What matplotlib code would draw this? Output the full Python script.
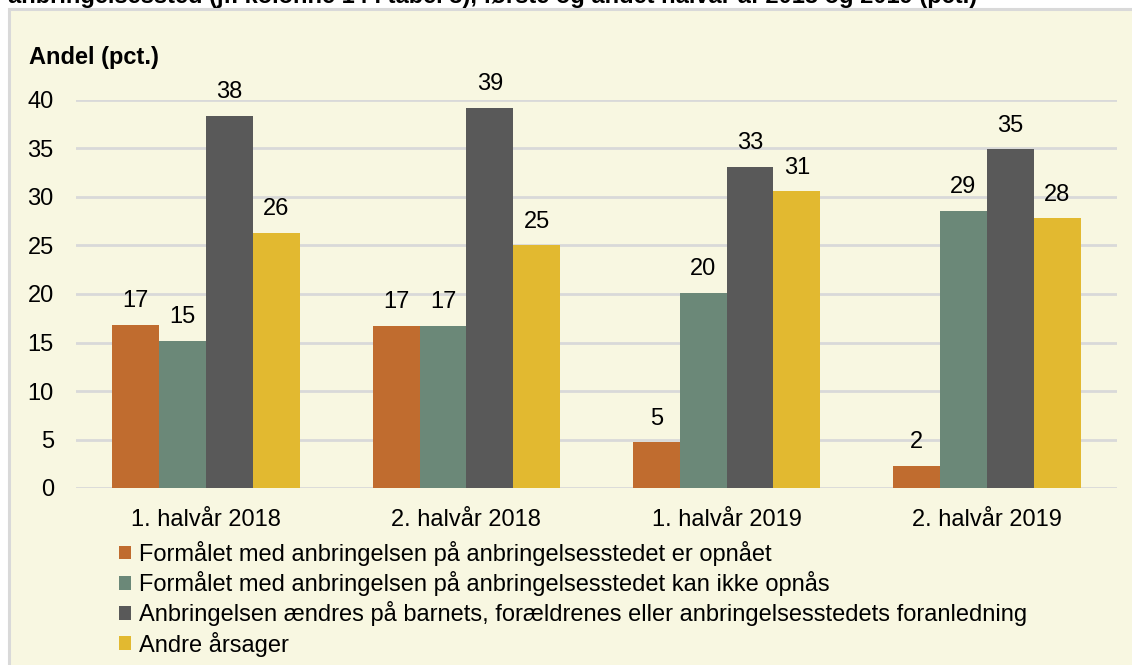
import numpy as np
import matplotlib.pyplot as plt
from matplotlib.patches import Patch, Rectangle

# Data
periods = ['1. halvår 2018', '2. halvår 2018', '1. halvår 2019', '2. halvår 2019']
series_names = [
    'Formålet med anbringelsen på anbringelsesstedet er opnået',
    'Formålet med anbringelsen på anbringelsesstedet kan ikke opnås',
    'Anbringelsen ændres på barnets, forældrenes eller anbringelsesstedets foranledning',
    'Andre årsager',
]
opnaaet = [16.8, 16.7, 4.7, 2.3]
ikke_opnaas = [15.2, 16.7, 20.1, 28.6]
aendres = [38.4, 39.2, 33.1, 34.9]
andre = [26.3, 25.0, 30.6, 27.8]
colors = ['#C06C2F', '#6B8878', '#595959', '#E2B930']

plt.rcParams['font.family'] = ['Liberation Sans', 'DejaVu Sans']
FS = 17

W, H = 1132, 665
fig = plt.figure(figsize=(W / 100, H / 100), dpi=100)
fig.patch.set_facecolor('white')

# cream panel with grey border
panel = Rectangle((9 / W, -0.1), 1.2, (H - 9) / H + 0.1, transform=fig.transFigure,
                  facecolor='#F8F7E1', edgecolor='#D9D9D9', linewidth=2.2, zorder=-1)
fig.patches.append(panel)

# cut-off title at the very top (as in the source image)
fig.text(8 / W, 1 - 3 / H,
         'anbringelsessted (jf. kolonne 14 i tabel 3), første og andet halvår af 2018 og 2019 (pct.)',
         fontsize=FS, fontweight='bold', va='baseline', ha='left')

ax = fig.add_axes([76 / W, 1 - 488 / H, (1117 - 76) / W, (488 - 100) / H])
ax.set_facecolor('none')
ax.set_zorder(2)

x = np.arange(len(periods))
w = 0.18
data = [opnaaet, ikke_opnaas, aendres, andre]
for i, vals in enumerate(data):
    pos = x + (i - 1.5) * w
    ax.bar(pos, vals, width=w, color=colors[i], zorder=3)
    for p, v in zip(pos, vals):
        ax.text(p, v + 1.3, '{:.0f}'.format(v), ha='center', va='bottom',
                fontsize=FS, zorder=4, clip_on=False)

ax.set_xlim(-0.5, 3.5)
ax.set_ylim(0, 40)
ax.set_yticks(range(0, 41, 5))
ax.yaxis.grid(True, color='#D9D9D9', linewidth=2)
ax.set_axisbelow(True)
for s in ax.spines.values():
    s.set_visible(False)
ax.tick_params(axis='both', length=0, labelsize=FS)
ax.tick_params(axis='y', pad=16)
ax.tick_params(axis='x', pad=15)
ax.set_xticks(x)
ax.set_xticklabels(periods)

fig.text(29 / W, 1 - 64 / H, 'Andel (pct.)', fontsize=FS, fontweight='bold',
         ha='left', va='baseline')

handles = [Patch(facecolor=c, edgecolor='none') for c in colors]
fig.legend(handles, series_names, loc='upper left',
           bbox_to_anchor=(119 / W, 1 - 541 / H), frameon=False, fontsize=FS,
           handlelength=0.5, handleheight=0.5, handletextpad=0.35,
           labelspacing=0.22, borderaxespad=0, borderpad=0)

fig.savefig('out.png', dpi=100)
